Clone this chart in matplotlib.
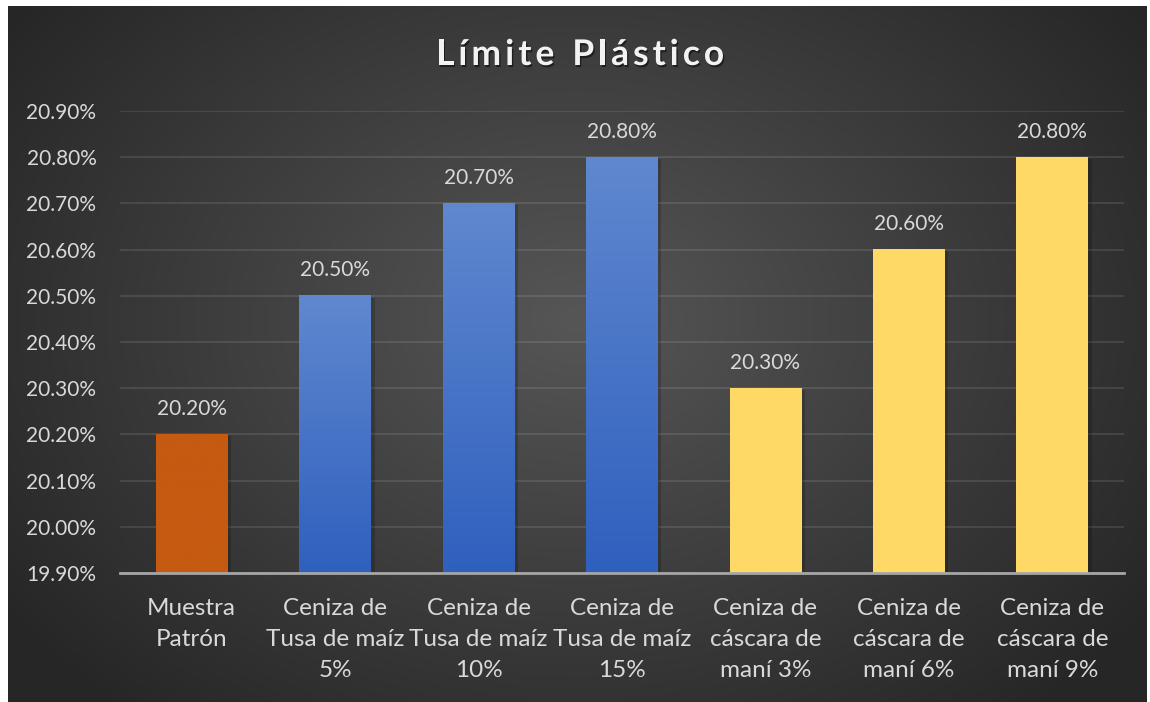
import numpy as np
import matplotlib
matplotlib.use("Agg")
import matplotlib.pyplot as plt
import matplotlib.patheffects as pe
from matplotlib.colors import LinearSegmentedColormap
from matplotlib.ticker import FuncFormatter

# Data
title = "Límite Plástico"
categories = ["Muestra\nPatrón",
              "Ceniza de\nTusa de maíz\n5%",
              "Ceniza de\nTusa de maíz\n10%",
              "Ceniza de\nTusa de maíz\n15%",
              "Ceniza de\ncáscara de\nmaní 3%",
              "Ceniza de\ncáscara de\nmaní 6%",
              "Ceniza de\ncáscara de\nmaní 9%"]
values = [20.20, 20.50, 20.70, 20.80, 20.30, 20.60, 20.80]
groups = ["orange", "blue", "blue", "blue", "yellow", "yellow", "yellow"]

plt.rcParams["font.family"] = ["Lato", "DejaVu Sans"]
txt_color = "#d9d9d9"

fig = plt.figure(figsize=(11.5, 7.02), dpi=100)
fig.patch.set_facecolor("white")

# Dark radial background
bg = fig.add_axes([8 / 1150, 0, 1139 / 1150, 696 / 702], zorder=-5)
yy, xx = np.mgrid[0:1:300j, 0:1:500j]
r = np.sqrt(((xx - 0.5) / 0.62) ** 2 + ((yy - 0.55) / 0.75) ** 2)
r = np.clip(r, 0, 1)
bg_cmap = LinearSegmentedColormap.from_list("bg", ["#565656", "#262626"])
bg.imshow(r, cmap=bg_cmap, aspect="auto", extent=[0, 1, 0, 1], origin="lower")
bg.axis("off")

ax = fig.add_axes([120 / 1150, 129 / 702, 1004 / 1150, 462 / 702])
ax.patch.set_alpha(0)

x = np.arange(len(values))
width = 0.5
cmaps = {
    "orange": LinearSegmentedColormap.from_list("o", ["#C55A11", "#C55A11"]),
    "blue": LinearSegmentedColormap.from_list("b", ["#2F60BE", "#6088CF"]),
    "yellow": LinearSegmentedColormap.from_list("y", ["#FFD966", "#FFD966"]),
}
ymin, ymax = 19.9, 20.9
grad = np.linspace(0, 1, 256).reshape(-1, 1)
for xi, v, g in zip(x, values, groups):
    # soft shadow
    ax.bar(xi + 0.015, v - ymin, width + 0.02, bottom=ymin - 0.004, color="black",
           alpha=0.18, zorder=2)
    ax.bar(xi, v - ymin, width, bottom=ymin, color="none", zorder=3)
    ax.imshow(grad, cmap=cmaps[g], aspect="auto", origin="lower",
              extent=[xi - width / 2, xi + width / 2, ymin, v], zorder=3)
    ax.annotate(f"{v:.2f}%", (xi, v), xytext=(0, 18.5), textcoords="offset points",
                ha="center", va="center", color=txt_color, fontsize=15)

ax.set_xlim(-0.5, len(values) - 0.5)
ax.set_ylim(ymin, ymax)
ax.set_yticks(np.arange(19.9, 20.91, 0.1))
ax.yaxis.set_major_formatter(FuncFormatter(lambda v, p: f"{v:.2f}%"))
ax.grid(axis="y", color="#ffffff", alpha=0.12, linewidth=1.2, zorder=0)
ax.set_axisbelow(True)
ax.set_xticks(x)
ax.set_xticklabels(categories, linespacing=1.58)
ax.tick_params(axis="both", length=0, colors=txt_color)
ax.tick_params(axis="y", pad=17, labelsize=15)
ax.tick_params(axis="x", pad=18, labelsize=17.5)
for s in ["top", "right", "left"]:
    ax.spines[s].set_visible(False)
ax.spines["bottom"].set_color("#a6a6a6")
ax.spines["bottom"].set_linewidth(2)
ax.spines["bottom"].set_zorder(4)

# Title with letter spacing, drawn char by char
renderer = fig.canvas.get_renderer()
spacing = 4.0  # px between letters
title_y = (702 - 65) / 702
shadow = [pe.withSimplePatchShadow(offset=(1, -1.5), alpha=0.5, shadow_rgbFace="black")]
parts = []
total = 0
for ch in title:
    t = fig.text(0, title_y, ch, ha="left", va="baseline", color="#f2f2f2",
                 fontsize=25.5, fontweight="bold", path_effects=shadow)
    w = t.get_window_extent(renderer).width if ch != " " else 10
    parts.append((t, w))
    total += w + spacing
total -= spacing
xpos = 580 - total / 2
for t, w in parts:
    t.set_x(xpos / 1150)
    xpos += w + spacing

fig.savefig("out.png", dpi=100)
